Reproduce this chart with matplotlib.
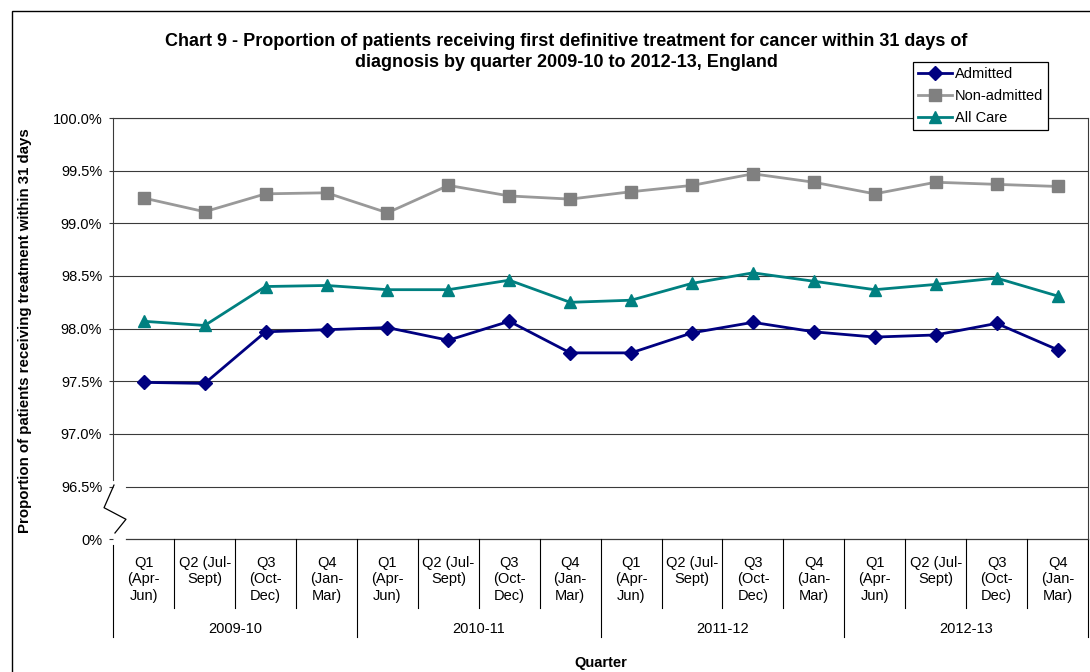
#!/usr/bin/env python3
"""Chart 9: 31-day first definitive cancer treatment, by quarter, England."""

import matplotlib

matplotlib.use("Agg")

import matplotlib.pyplot as plt  # noqa: E402
import matplotlib.transforms as mtransforms  # noqa: E402
from matplotlib.patches import Rectangle  # noqa: E402
import numpy as np  # noqa: E402

plt.rcParams["font.family"] = ["Liberation Sans", "DejaVu Sans"]

# --- data ------------------------------------------------------------------
quarter_labels = [
    "Q1\n(Apr-\nJun)", "Q2 (Jul-\nSept)", "Q3\n(Oct-\nDec)", "Q4\n(Jan-\nMar)",
] * 4
years = ["2009-10", "2010-11", "2011-12", "2012-13"]

admitted = [97.49, 97.48, 97.97, 97.99, 98.01, 97.89, 98.07, 97.77,
            97.77, 97.96, 98.06, 97.97, 97.92, 97.94, 98.05, 97.80]
non_admitted = [99.24, 99.11, 99.28, 99.29, 99.10, 99.36, 99.26, 99.23,
                99.30, 99.36, 99.47, 99.39, 99.28, 99.39, 99.37, 99.35]
all_care = [98.07, 98.03, 98.40, 98.41, 98.37, 98.37, 98.46, 98.25,
            98.27, 98.43, 98.53, 98.45, 98.37, 98.42, 98.48, 98.31]

y_ticks = [96.0, 96.5, 97.0, 97.5, 98.0, 98.5, 99.0, 99.5, 100.0]

# --- figure ----------------------------------------------------------------
W, H = 1090, 672
fig = plt.figure(figsize=(W / 100, H / 100), dpi=100)
ax = fig.add_axes([113.3 / W, 1 - 539.3 / H, (1088 - 113.3) / W, (539.3 - 118) / H])

# outer chart-area border (right/bottom run off the image)
fig.patches.append(Rectangle((12 / W, -0.2), 2.0, 1.2 - 11 / H, transform=fig.transFigure,
                             fill=False, ec="black", lw=1.0))

x = np.arange(len(admitted))
ax.set_xlim(-0.5, len(admitted) - 0.5)
ax.set_ylim(y_ticks[0], y_ticks[-1])

grid_kw = dict(color="#3a3a3a", lw=0.8, zorder=1)
for v in y_ticks[2:]:
    ax.axhline(v, **grid_kw)
ax.axhline(y_ticks[1], xmin=0.013, **grid_kw)

ax.plot(x, admitted, color="#000080", lw=2.0, marker="D", ms=7, label="Admitted", zorder=4)
ax.plot(x, non_admitted, color="#999999", lw=2.0, marker="s", ms=8, mfc="#808080",
        mec="#808080", label="Non-admitted", zorder=3)
ax.plot(x, all_care, color="#008080", lw=2.0, marker="^", ms=9, label="All Care", zorder=3)

ax.set_yticks(y_ticks)
ax.set_yticklabels(["0%" if v == y_ticks[0] else f"{v:.1f}%" for v in y_ticks], fontsize=10.5)
ax.tick_params(axis="y", length=3, width=0.8, pad=5, color="#3a3a3a")
ax.set_xticks([])

for side in ("left", "bottom"):
    ax.spines[side].set_visible(False)
for side in ("top", "right"):
    ax.spines[side].set_color("#3a3a3a")
    ax.spines[side].set_linewidth(0.8)

# broken y axis
ty = mtransforms.blended_transform_factory(ax.transAxes, ax.transData)
ax.plot([0, 0], [96.56, 100.0], transform=ty, color="#3a3a3a", lw=0.8, clip_on=False)
ax.plot([0.0007, -0.0095, 0.013, 0.0017], [96.515, 96.30, 96.19, 96.06],
        transform=ty, color="black", lw=0.9, clip_on=False)
ax.plot([0.013, 1.0], [96.0, 96.0], transform=ty, color="#3a3a3a", lw=0.9, clip_on=False)

# multi-level category axis
tx = mtransforms.blended_transform_factory(ax.transData, ax.transAxes)
ax_h = 539.3 - 118
short_y = -(608 - 539.3) / ax_h
long_y = -(637 - 539.3) / ax_h
for i in range(len(admitted) + 1):
    xb = i - 0.5
    is_year = i % 4 == 0
    y0 = -(545 - 539.3) / ax_h if i == 0 else 0
    ax.plot([xb, xb], [y0, long_y if is_year else short_y], transform=tx,
            color="black", lw=0.8, clip_on=False)

for xi, lab in zip(x, quarter_labels):
    ax.text(xi, -(556 - 539.3) / ax_h, lab, transform=tx, ha="center", va="top",
            fontsize=10.5, linespacing=1.22)

for k, yr in enumerate(years):
    ax.text(4 * k + 1.5, -(629 - 539.3) / ax_h, yr, transform=tx, ha="center",
            va="center", fontsize=10.5)

ax.text(0.5, -(663 - 539.3) / ax_h, "Quarter", transform=ax.transAxes, ha="center",
        va="center", fontsize=10.5, fontweight="bold")

fig.text(25 / W, 1 - 331 / H, "Proportion of patients receiving treatment within 31 days",
         rotation=90, ha="center", va="center", fontsize=10.8, fontweight="bold")

fig.text(566 / W, 1 - 52 / H,
         "Chart 9 - Proportion of patients receiving first definitive treatment for cancer "
         "within 31 days of\ndiagnosis by quarter 2009-10 to 2012-13, England",
         ha="center", va="center", fontsize=13, fontweight="bold", linespacing=1.35)

leg = fig.legend(loc="upper left", bbox_to_anchor=(913 / W, 1 - 62 / H), fontsize=10.5,
                 frameon=True, fancybox=False, edgecolor="black", framealpha=1,
                 handlelength=2.3, handletextpad=0.2, labelspacing=0.55,
                 borderpad=0.35, borderaxespad=0)
leg.get_frame().set_linewidth(0.9)
leg.set_zorder(10)

fig.savefig("out.png", dpi=100)
